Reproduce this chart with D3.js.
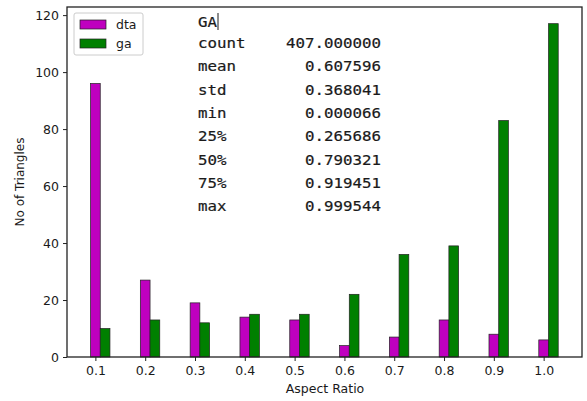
<!DOCTYPE html>
<html>
<head>
<meta charset="utf-8">
<script src="https://cdn.jsdelivr.net/npm/d3@7"></script>
<style>
  body { margin: 0; background: #fff; }
  .mono { font-family: "DejaVu Sans Mono", "Liberation Mono", monospace; }
</style>
</head>
<body>
<svg id="chart" width="587" height="401" font-family="DejaVu Sans, sans-serif"></svg>
<script>
// aspect-ratio bins and counts for the two meshes
const categories = ["0.1", "0.2", "0.3", "0.4", "0.5", "0.6", "0.7", "0.8", "0.9", "1.0"];
const dta = [96, 27, 19, 14, 13, 4, 7, 13, 8, 6];
const ga = [10, 13, 12, 15, 15, 22, 36, 39, 83, 117];
const yTicks = [0, 20, 40, 60, 80, 100, 120];
// describe() output printed over the plot
const statNames = ["count", "mean", "std", "min", "25%", "50%", "75%", "max"];
const statValues = ["407.000000", "0.607596", "0.368041", "0.000066", "0.265686", "0.790321", "0.919451", "0.999544"];

const svg = d3.select("#chart");
const pLeft = 67, pRight = 582, pTop = 7, pBottom = 357;
const barW = 0.195;

// matplotlib style 5% margins around the bars
const x = d3.scaleLinear().domain([-0.57, 9.77]).range([pLeft, pRight]);
const y = d3.scaleLinear().domain([0, 122.85]).range([pBottom, pTop]);

const bars = svg.append("g");
bars.selectAll("rect.dta").data(dta).join("rect").attr("class", "dta")
  .attr("x", (d, i) => x(i - barW / 2))
  .attr("y", d => y(d))
  .attr("width", x(barW) - x(0))
  .attr("height", d => y(0) - y(d))
  .attr("fill", "#bf00bf").attr("stroke", "#222").attr("stroke-width", 0.7);
bars.selectAll("rect.ga").data(ga).join("rect").attr("class", "ga")
  .attr("x", (d, i) => x(i + barW / 2))
  .attr("y", d => y(d))
  .attr("width", x(barW) - x(0))
  .attr("height", d => y(0) - y(d))
  .attr("fill", "#008000").attr("stroke", "#222").attr("stroke-width", 0.7);

// frame
svg.append("rect").attr("x", pLeft).attr("y", pTop)
  .attr("width", pRight - pLeft).attr("height", pBottom - pTop)
  .attr("fill", "none").attr("stroke", "#222").attr("stroke-width", 1.3);

const xAxis = svg.append("g").attr("transform", `translate(0,${pBottom})`)
  .call(d3.axisBottom(x).tickValues(d3.range(categories.length)).tickFormat(i => categories[i]).tickSize(4).tickPadding(5));
const yAxis = svg.append("g").attr("transform", `translate(${pLeft},0)`)
  .call(d3.axisLeft(y).tickValues(yTicks).tickSize(4).tickPadding(4));
[xAxis, yAxis].forEach(a => {
  a.select(".domain").remove();
  a.selectAll("line").attr("stroke", "#222");
  a.selectAll("text").attr("font-size", 12.5).attr("fill", "#1a1a1a").attr("font-family", "DejaVu Sans");
});

svg.append("text").attr("x", 325).attr("y", 393).attr("text-anchor", "middle")
  .attr("font-size", 12.5).attr("fill", "#1a1a1a").text("Aspect Ratio");
svg.append("text").attr("transform", "translate(24,182) rotate(-90)").attr("text-anchor", "middle")
  .attr("font-size", 12).attr("fill", "#1a1a1a").text("No of Triangles");

// legend
const lg = svg.append("g");
lg.append("rect").attr("x", 74).attr("y", 13).attr("width", 69).attr("height", 42).attr("rx", 2)
  .attr("fill", "#fff").attr("stroke", "#ccc");
[["dta", "#bf00bf"], ["ga", "#008000"]].forEach(([name, col], i) => {
  lg.append("rect").attr("x", 80).attr("y", 20 + i * 19).attr("width", 26).attr("height", 9)
    .attr("fill", col).attr("stroke", "#222").attr("stroke-width", 0.7);
  lg.append("text").attr("x", 116).attr("y", 29 + i * 19).attr("font-size", 12.5).attr("fill", "#1a1a1a").text(name);
});

// stats block
const st = svg.append("g").attr("font-size", 13.5).attr("fill", "#1a1a1a")
  .attr("stroke", "#1a1a1a").attr("stroke-width", 0.2);
st.append("text").attr("class", "mono").attr("transform", "translate(198,26.5) scale(1.17,1)").text("GA");
st.append("line").attr("x1", 218).attr("x2", 218).attr("y1", 13).attr("y2", 30).attr("stroke-width", 1);
statNames.forEach((s, i) => {
  st.append("text").attr("class", "mono").attr("transform", `translate(198,${48 + i * 23.35}) scale(1.17,1)`).text(s);
  st.append("text").attr("class", "mono").attr("transform", `translate(381,${48 + i * 23.35}) scale(1.17,1)`)
    .attr("text-anchor", "end").text(statValues[i]);
});
</script>
</body>
</html>
